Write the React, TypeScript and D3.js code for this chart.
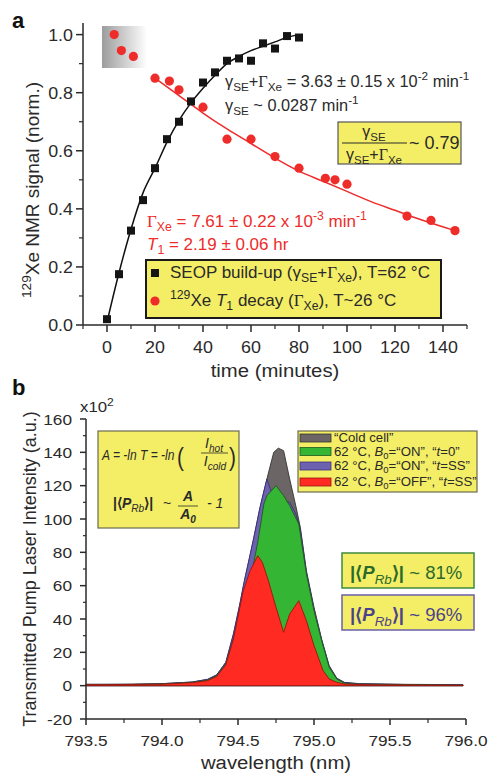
import React from "react";
import * as d3 from "d3";

// ---------- panel a : 129Xe NMR signal vs time ----------
const buildupTime = [0, 5, 10, 15, 20, 25, 30, 35, 40, 45, 50, 55, 60, 65, 70, 75, 80];
const buildupSignal = [0.02, 0.175, 0.325, 0.43, 0.54, 0.64, 0.7, 0.77, 0.835, 0.87, 0.91, 0.918, 0.91, 0.97, 0.952, 0.995, 0.99];
const buildupFitTime = [0, 5, 10, 15, 20, 25, 30, 35, 40, 45, 50, 55, 60, 65, 70, 75, 80];
const buildupFitSignal = [0.01, 0.18, 0.33, 0.455, 0.54, 0.63, 0.705, 0.765, 0.815, 0.86, 0.9, 0.925, 0.945, 0.96, 0.975, 0.99, 1.0];
const decayTime = [3, 6, 11, 20, 26, 30, 40, 50, 60, 70, 80, 91, 95, 100, 125, 135, 145];
const decaySignal = [1.0, 0.945, 0.925, 0.85, 0.84, 0.81, 0.75, 0.64, 0.64, 0.58, 0.54, 0.505, 0.5, 0.485, 0.375, 0.36, 0.325];
const decayFitTime = [20, 30, 40, 50, 60, 70, 80, 90, 100, 110, 120, 130, 145];
const decayFitSignal = [0.85, 0.79, 0.73, 0.675, 0.625, 0.575, 0.53, 0.495, 0.46, 0.425, 0.395, 0.365, 0.325];
const timeTicks = [0, 20, 40, 60, 80, 100, 120, 140];
const timeMinor = [-10, 10, 30, 50, 70, 90, 110, 130, 150];
const signalTicks = [0, 0.2, 0.4, 0.6, 0.8, 1.0];
const signalMinor = [0.1, 0.3, 0.5, 0.7, 0.9];

// ---------- panel b : transmitted laser spectra (wavelength nm, x10^2) ----------
const coldCell = [
  [793.5, 0.8], [793.8, 0.8], [794.0, 1.2], [794.2, 2.2], [794.3, 3.8], [794.36, 6.5], [794.42, 14],
  [794.47, 31], [794.51, 48], [794.54, 62], [794.6, 87], [794.645, 107], [794.69, 124], [794.735, 140],
  [794.765, 142.5], [794.8, 141], [794.84, 124], [794.88, 108], [794.91, 95], [794.95, 69], [795.0, 47],
  [795.05, 28], [795.1, 12], [795.15, 4.5], [795.2, 2], [795.3, 1.2], [795.6, 0.8], [795.98, 0.6],
];
const onSteady = [
  [793.5, 0.8], [793.8, 0.8], [794.0, 1.2], [794.2, 2.2], [794.3, 3.8], [794.36, 6.5], [794.42, 14],
  [794.47, 31], [794.51, 48], [794.54, 62], [794.6, 87], [794.645, 107], [794.69, 124], [794.72, 116],
  [794.76, 112], [794.8, 111], [794.84, 110], [794.88, 103], [794.91, 94], [794.95, 68], [795.0, 46],
  [795.05, 27.5], [795.1, 11.5], [795.15, 4.3], [795.2, 1.8], [795.3, 1.1], [795.6, 0.7], [795.98, 0.5],
];
const onStart = [
  [793.5, 0.6], [794.0, 1], [794.2, 2], [794.3, 3.3], [794.36, 6], [794.42, 13], [794.47, 28],
  [794.51, 42], [794.56, 58], [794.6, 72], [794.63, 86], [794.67, 109], [794.69, 114], [794.75, 120],
  [794.8, 114], [794.84, 108], [794.9, 97], [794.95, 67], [795.0, 45], [795.05, 27], [795.1, 11],
  [795.15, 4], [795.2, 1.5], [795.3, 0.9], [795.6, 0.6], [795.98, 0.4],
];
const offSteady = [
  [793.5, 0.5], [794.0, 0.9], [794.2, 1.8], [794.3, 3], [794.36, 5.5], [794.42, 12.5], [794.47, 28],
  [794.535, 57], [794.58, 69], [794.63, 78], [794.66, 74], [794.7, 63], [794.75, 47], [794.8, 32],
  [794.84, 43], [794.9, 51], [794.95, 39], [795.0, 24], [795.06, 9], [795.1, 4], [795.15, 2],
  [795.2, 1], [795.4, 0.5], [795.98, 0.3],
];
const wlTicks = [793.5, 794.0, 794.5, 795.0, 795.5, 796.0];
const wlMinor = [793.75, 794.25, 794.75, 795.25, 795.75];
const intTicks = [-20, 0, 20, 40, 60, 80, 100, 120, 140, 160];
const intMinor = [-10, 10, 30, 50, 70, 90, 110, 130, 150];

const SANS = "'Liberation Sans', Arial, Helvetica, sans-serif";
const SERIF = "'Liberation Serif', 'Times New Roman', serif";
const YELLOW = "#f4ee66";
const RED = "#ee2c2a";
const INK = "#2a2a2a";

type Part = [string, string?];

function Rich({ x, y, size, parts, fill = INK, anchor = "start", sx = 1, italic = false }: any) {
  let cur = 0;
  const spans = (parts as Part[]).map(([t, st = ""], i) => {
    const f = st.split(" ");
    const sub = f.includes("sub");
    const sup = f.includes("sup");
    const target = sub ? size * 0.26 : sup ? -size * 0.42 : 0;
    const dy = target - cur;
    cur = target;
    return (
      <tspan
        key={i}
        dy={dy}
        fontSize={sub || sup ? size * 0.72 : undefined}
        fontStyle={f.includes("i") ? "italic" : undefined}
        fontWeight={f.includes("b") ? "bold" : undefined}
        fontFamily={f.includes("serif") ? SERIF : undefined}
      >
        {t}
      </tspan>
    );
  });
  return (
    <text
      transform={`translate(${x},${y}) scale(${sx},1)`}
      fontSize={size}
      fill={fill}
      textAnchor={anchor}
      fontFamily={SANS}
      fontStyle={italic ? "italic" : undefined}
    >
      {spans}
    </text>
  );
}

function PanelA() {
  const x = d3.scaleLinear().domain([-10, 150]).range([83, 467]);
  const y = d3.scaleLinear().domain([0, 1.04]).range([325, 23]);
  const buildLine = d3
    .line<number>()
    .x((d) => x(buildupFitTime[d]))
    .y((d) => y(buildupFitSignal[d]))
    .curve(d3.curveMonotoneX)(buildupFitTime.map((_, i) => i));
  const decayLine = d3
    .line<number>()
    .x((d) => x(decayFitTime[d]))
    .y((d) => y(decayFitSignal[d]))
    .curve(d3.curveMonotoneX)(decayFitTime.map((_, i) => i));
  const fmt = d3.format(".1f");
  return (
    <g>
      <defs>
        <linearGradient id="gbox" x1="0" x2="1" y1="0" y2="0">
          <stop offset="0" stopColor="#9c9c9c" />
          <stop offset="1" stopColor="#ffffff" />
        </linearGradient>
      </defs>
      <text x={12} y={28} fontSize={22} fontWeight="bold" fontFamily={SANS} fill="#111">a</text>
      <rect x={102} y={26} width={45} height={42} fill="url(#gbox)" />

      {/* axes */}
      <line x1={x(-10)} x2={x(-10)} y1={y(0)} y2={y(1.04)} stroke={INK} strokeWidth={1.5} />
      <line x1={x(-10)} x2={x(150)} y1={y(0)} y2={y(0)} stroke={INK} strokeWidth={1.5} />
      {signalTicks.map((v) => (
        <g key={v}>
          <line x1={x(-10) - 7} x2={x(-10)} y1={y(v)} y2={y(v)} stroke={INK} strokeWidth={1.5} />
          <Rich x={73} y={y(v) + 6} size={17} anchor="end" sx={1.05} parts={[[fmt(v)]]} />
        </g>
      ))}
      {signalMinor.map((v) => (
        <line key={v} x1={x(-10) - 4} x2={x(-10)} y1={y(v)} y2={y(v)} stroke={INK} strokeWidth={1.2} />
      ))}
      {timeTicks.map((v) => (
        <g key={v}>
          <line x1={x(v)} x2={x(v)} y1={y(0)} y2={y(0) + 7} stroke={INK} strokeWidth={1.5} />
          <Rich x={x(v)} y={353} size={17} anchor="middle" sx={1.05} parts={[[String(v)]]} />
        </g>
      ))}
      {timeMinor.map((v) => (
        <line key={v} x1={x(v)} x2={x(v)} y1={y(0)} y2={y(0) + 4} stroke={INK} strokeWidth={1.2} />
      ))}
      <Rich x={275} y={377} size={19} anchor="middle" sx={1.07} parts={[["time (minutes)"]]} />
      <g transform="translate(39,190) rotate(-90)">
        <Rich x={0} y={0} size={19} anchor="middle" parts={[["129", "sup"], ["Xe NMR signal (norm.)"]]} />
      </g>

      {/* fits */}
      <path d={buildLine || ""} fill="none" stroke="#111" strokeWidth={1.5} />
      <path d={decayLine || ""} fill="none" stroke={RED} strokeWidth={1.5} />

      {/* points */}
      {buildupTime.map((t, i) => (
        <rect key={t} x={x(t) - 4} y={y(buildupSignal[i]) - 4} width={8} height={8} fill="#151515" />
      ))}
      {decayTime.map((t, i) => (
        <circle key={t} cx={x(t)} cy={y(decaySignal[i])} r={4.6} fill={RED} />
      ))}

      {/* annotations */}
      <Rich x={225} y={87} size={16} sx={1.02} parts={[["γ"], ["SE", "sub"], ["+"], ["Γ", "serif"], ["Xe", "sub"], [" = 3.63 ± 0.15 x 10"], ["-2", "sup"], [" min"], ["-1", "sup"]]} />
      <Rich x={225} y={111} size={16} sx={1.02} parts={[["γ"], ["SE", "sub"], [" ~ 0.0287 min"], ["-1", "sup"]]} />

      <rect x={338} y={122} width={123} height={42} fill={YELLOW} stroke="#555" strokeWidth={1.2} />
      <Rich x={374} y={137} size={16} anchor="middle" parts={[["γ"], ["SE", "sub"]]} />
      <line x1={342} x2={407} y1={143} y2={143} stroke={INK} strokeWidth={1} />
      <Rich x={374} y={160} size={16} anchor="middle" parts={[["γ"], ["SE", "sub"], ["+"], ["Γ", "serif"], ["Xe", "sub"]]} />
      <Rich x={409} y={149} size={18} parts={[["~ 0.79"]]} />

      <Rich x={147} y={227} size={17} fill={RED} parts={[["Γ", "serif"], ["Xe", "sub"], ["  = 7.61 ± 0.22 x 10"], ["-3", "sup"], [" min"], ["-1", "sup"]]} />
      <Rich x={147} y={250} size={17} fill={RED} parts={[["T", "i"], ["1", "sub"], [" = 2.19 ± 0.06 hr"]]} />

      {/* legend */}
      <rect x={146} y={260} width={295} height={58} fill={YELLOW} stroke="#1a1a1a" strokeWidth={2} />
      <rect x={151} y={269} width={8} height={8} fill="#151515" />
      <Rich x={170} y={278} size={17} parts={[["SEOP build-up ("], ["γ"], ["SE", "sub"], ["+"], ["Γ", "serif"], ["Xe", "sub"], ["), T=62 °C"]]} />
      <circle cx={155} cy={301} r={4.6} fill={RED} />
      <Rich x={170} y={306} size={17} parts={[["129", "sup"], ["Xe "], ["T", "i"], ["1", "sub"], [" decay ("], ["Γ", "serif"], ["Xe", "sub"], ["), T~26 °C"]]} />
    </g>
  );
}

const spectra = [
  { data: coldCell, fill: "#6c6565", stroke: "#333" },
  { data: onSteady, fill: "#6d62b0", stroke: "#3a2f7e" },
  { data: onStart, fill: "#34b534", stroke: "#1e5a1e" },
  { data: offSteady, fill: "#ff2a22", stroke: "#9a1410" },
];
const legendLabels: Part[][] = [
  [["“Cold cell”"]],
  [["62 °C, "], ["B", "i"], ["0", "sub"], ["=“ON”, “"], ["t", "i"], ["=0”"]],
  [["62 °C, "], ["B", "i"], ["0", "sub"], ["=“ON”, “"], ["t", "i"], ["=SS”"]],
  [["62 °C, "], ["B", "i"], ["0", "sub"], ["=“OFF”, “"], ["t", "i"], ["=SS”"]],
];
const legendColors = [spectra[0], spectra[2], spectra[1], spectra[3]];

function PanelB() {
  const x = d3.scaleLinear().domain([793.5, 796.0]).range([86, 466]);
  const y = d3.scaleLinear().domain([-20, 160]).range([719, 419]);
  const area = d3
    .area<number[]>()
    .x((d) => x(d[0]))
    .y0(y(0))
    .y1((d) => y(d[1]));
  const fmtX = d3.format(".1f");
  return (
    <g>
      <text x={12} y={395} fontSize={22} fontWeight="bold" fontFamily={SANS} fill="#111">b</text>

      {spectra.map((s, i) => (
        <path key={i} d={area(s.data as number[][]) || ""} fill={s.fill} stroke={s.stroke} strokeWidth={0.9} strokeLinejoin="round" />
      ))}

      <line x1={86} x2={86} y1={y(-20)} y2={y(160)} stroke={INK} strokeWidth={1.5} />
      <line x1={86} x2={466} y1={y(-20)} y2={y(-20)} stroke={INK} strokeWidth={1.5} />
      {intTicks.map((v) => (
        <g key={v}>
          <line x1={80} x2={86} y1={y(v)} y2={y(v)} stroke={INK} strokeWidth={1.5} />
          <Rich x={72} y={y(v) + 5.5} size={15} anchor="end" sx={1.15} parts={[[String(v)]]} />
        </g>
      ))}
      {intMinor.map((v) => (
        <line key={v} x1={83} x2={86} y1={y(v)} y2={y(v)} stroke={INK} strokeWidth={1.2} />
      ))}
      {wlTicks.map((v) => (
        <g key={v}>
          <line x1={x(v)} x2={x(v)} y1={719} y2={725} stroke={INK} strokeWidth={1.5} />
          <Rich x={x(v)} y={746} size={15} anchor="middle" sx={1.15} parts={[[fmtX(v)]]} />
        </g>
      ))}
      {wlMinor.map((v) => (
        <line key={v} x1={x(v)} x2={x(v)} y1={719} y2={723} stroke={INK} strokeWidth={1.2} />
      ))}
      <Rich x={80} y={412} size={15} sx={1.12} parts={[["x10"], ["2", "sup"]]} />
      <Rich x={276} y={769} size={19} anchor="middle" sx={1.07} parts={[["wavelength (nm)"]]} />
      <g transform="translate(36,569) rotate(-90)">
        <Rich x={0} y={0} size={18} anchor="middle" parts={[["Transmitted Pump Laser Intensity (a.u.)"]]} />
      </g>

      {/* formula box */}
      <rect x={98} y={431} width={141} height={97} fill={YELLOW} stroke="#6b6b50" strokeWidth={1.2} />
      <Rich x={102} y={460} size={14} sx={0.86} italic parts={[["A = -ln T = -ln"]]} />
      <text x={177} y={466} fontSize={26} fontFamily={SANS} fill={INK} transform="translate(177,0) scale(0.8,1) translate(-177,0)">(</text>
      <Rich x={214} y={448} size={14} italic anchor="middle" parts={[["I"], ["hot", "sub"]]} />
      <line x1={201} x2={228} y1={453} y2={453} stroke={INK} strokeWidth={0.8} />
      <Rich x={215} y={466} size={14} italic anchor="middle" parts={[["I"], ["cold", "sub"]]} />
      <text x={229} y={466} fontSize={26} fontFamily={SANS} fill={INK} transform="translate(229,0) scale(0.8,1) translate(-229,0)">)</text>
      <Rich x={113} y={508} size={14} parts={[["|⟨", "b"], ["P", "b i"], ["Rb", "sub i"], ["⟩|", "b"]]} />
      <Rich x={163} y={508} size={14} parts={[["~"]]} />
      <Rich x={188} y={501} size={14} italic anchor="middle" parts={[["A", "b"]]} />
      <line x1={178} x2={198} y1={506} y2={506} stroke={INK} strokeWidth={0.8} />
      <Rich x={188} y={519} size={14} italic anchor="middle" parts={[["A", "b"], ["0", "sub b"]]} />
      <Rich x={207} y={508} size={14} italic parts={[["- 1"]]} />

      {/* legend */}
      <rect x={298} y={431} width={179} height={61} fill={YELLOW} stroke="#6b6b50" strokeWidth={1.2} />
      {legendLabels.map((p, i) => {
        const cy = [438, 451.5, 466, 482][i];
        return (
          <g key={i}>
            <rect x={300} y={cy - 4} width={31} height={8} fill={legendColors[i].fill} stroke={legendColors[i].stroke} strokeWidth={0.8} />
            <Rich x={334} y={cy + 4} size={12} sx={1.1} parts={p} />
          </g>
        );
      })}

      {/* polarisation boxes */}
      <rect x={342} y={553} width={132} height={35} fill={YELLOW} stroke="#3f8a3f" strokeWidth={1.5} />
      <Rich x={350} y={579} size={18} sx={1.03} fill="#2c6a2c" parts={[["|⟨", "b"], ["P", "b i"], ["Rb", "sub i"], ["⟩|", "b"], [" ~ 81%"]]} />
      <rect x={342} y={595} width={132} height={35} fill={YELLOW} stroke="#6a60a8" strokeWidth={1.5} />
      <Rich x={350} y={621} size={18} sx={1.03} fill="#4c428c" parts={[["|⟨", "b"], ["P", "b i"], ["Rb", "sub i"], ["⟩|", "b"], [" ~ 96%"]]} />
    </g>
  );
}

export default function App() {
  return (
    <svg
      width={489}
      height={774}
      style={{ position: "absolute", left: 0, top: 0, background: "#fff" }}
      fontFamily={SANS}
    >
      <PanelA />
      <PanelB />
    </svg>
  );
}
